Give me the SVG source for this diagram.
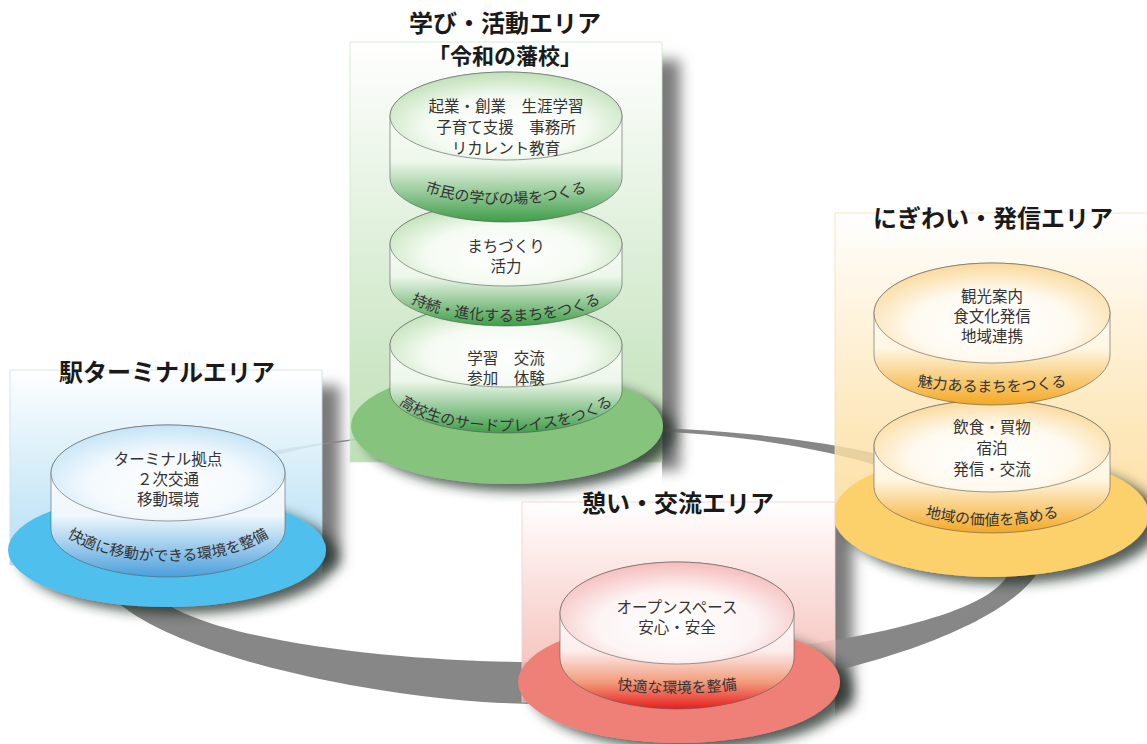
<svg xmlns="http://www.w3.org/2000/svg" width="1147" height="744" viewBox="0 0 1147 744">
<style>
.t{font-family:"Noto Sans CJK JP","Noto Sans CJK SC",sans-serif;fill:#333;font-size:15.5px;text-anchor:middle}
.h{font-weight:700;font-size:24px;fill:#1a1a1a}
.s{font-weight:700;font-size:22px;fill:#1a1a1a}
.c{font-size:15px}
.cyl{stroke:#5a5a5a;stroke-width:0.6}
</style>
<defs>
<filter id="bl" x="-30%" y="-30%" width="160%" height="160%"><feGaussianBlur stdDeviation="7"/></filter>
<filter id="ds" x="-20%" y="-30%" width="150%" height="180%">
<feGaussianBlur in="SourceAlpha" stdDeviation="6"/>
<feOffset dx="12" dy="7" result="o"/>
<feFlood flood-color="#1c2a22" flood-opacity="0.75"/>
<feComposite in2="o" operator="in"/>
<feMerge><feMergeNode/><feMergeNode in="SourceGraphic"/></feMerge>
</filter>
<linearGradient id="gP" x1="0" y1="0" x2="0" y2="1"><stop offset="0" stop-color="#fff" stop-opacity="0.95"/><stop offset="1" stop-color="#b5dbab" stop-opacity="0.85"/></linearGradient>
<linearGradient id="bP" x1="0" y1="0" x2="0" y2="1"><stop offset="0" stop-color="#fff" stop-opacity="0.95"/><stop offset="1" stop-color="#a5d8f2" stop-opacity="0.8"/></linearGradient>
<linearGradient id="oP" x1="0" y1="0" x2="0" y2="1"><stop offset="0" stop-color="#fff" stop-opacity="0.95"/><stop offset="1" stop-color="#fcd990" stop-opacity="0.8"/></linearGradient>
<linearGradient id="rP" x1="0" y1="0" x2="0" y2="1"><stop offset="0" stop-color="#fff" stop-opacity="0.95"/><stop offset="1" stop-color="#f3aea6" stop-opacity="0.85"/></linearGradient>
<radialGradient id="gT" cx="0.5" cy="0.62" r="0.62"><stop offset="0" stop-color="#fff"/><stop offset="0.55" stop-color="#f5fbf3"/><stop offset="1" stop-color="#bfe0b6"/></radialGradient>
<radialGradient id="bT" cx="0.5" cy="0.62" r="0.62"><stop offset="0" stop-color="#fff"/><stop offset="0.55" stop-color="#f3f9fd"/><stop offset="1" stop-color="#c4e4f7"/></radialGradient>
<radialGradient id="oT" cx="0.5" cy="0.62" r="0.62"><stop offset="0" stop-color="#fff"/><stop offset="0.55" stop-color="#fffaf0"/><stop offset="1" stop-color="#fad99a"/></radialGradient>
<radialGradient id="rT" cx="0.5" cy="0.62" r="0.62"><stop offset="0" stop-color="#fff"/><stop offset="0.55" stop-color="#fdf4f4"/><stop offset="1" stop-color="#f5bcbc"/></radialGradient>
<linearGradient id="gS" x1="0" y1="0" x2="0" y2="1"><stop offset="0" stop-color="#fff"/><stop offset="0.6" stop-color="#eef7eb"/><stop offset="1" stop-color="#3f9d48"/></linearGradient>
<linearGradient id="bS" x1="0" y1="0" x2="0" y2="1"><stop offset="0" stop-color="#fff"/><stop offset="0.6" stop-color="#eef7fc"/><stop offset="1" stop-color="#4a9fdc"/></linearGradient>
<linearGradient id="oS" x1="0" y1="0" x2="0" y2="1"><stop offset="0" stop-color="#fff"/><stop offset="0.6" stop-color="#fff6e2"/><stop offset="1" stop-color="#f3a823"/></linearGradient>
<linearGradient id="rS" x1="0" y1="0" x2="0" y2="1"><stop offset="0" stop-color="#fff"/><stop offset="0.6" stop-color="#fdeeee"/><stop offset="0.82" stop-color="#f29a7a"/><stop offset="1" stop-color="#e61e1e"/></linearGradient>
<clipPath id="cG"><rect x="662" y="0" width="80" height="744"/></clipPath>
<clipPath id="cB"><rect x="322" y="0" width="80" height="744"/></clipPath>
<clipPath id="cR"><rect x="835" y="0" width="80" height="744"/></clipPath>
<path id="tpG1" d="M 390 160 A 116 44 0 0 0 622 160"/>
<path id="tpG2" d="M 390 278 A 116 43 0 0 0 622 278"/>
<path id="tpG3" d="M 386 381 A 120 50 0 0 0 626 381"/>
<path id="tpB" d="M 48 508 A 120 53 0 0 0 288 508"/>
<path id="tpO1" d="M 874 365 A 118 27 0 0 0 1110 365"/>
<path id="tpO2" d="M 874 477 A 118 48 0 0 0 1110 477"/>
<path id="tpR" d="M 560 668 A 117 25 0 0 0 794 668"/>
</defs>
<rect width="1147" height="744" fill="#fff"/>

<g id="panel-shadows" fill="#7a7a7a">
<rect x="368" y="60" width="312" height="410" filter="url(#bl)" clip-path="url(#cG)"/>
<rect x="28" y="386" width="312" height="180" filter="url(#bl)" clip-path="url(#cB)"/>
<rect x="540" y="518" width="313" height="190" filter="url(#bl)" clip-path="url(#cR)"/>
</g>

<g id="connectors">
<path fill="#878787" fill-rule="evenodd" d="M 600 427 C 846 427 1045 482 1045 550 C 1045 620 820 704 540 704 C 380 704 100 645 95 565 C 95 450 380 427 600 427 Z M 600 430 C 826 430 1010 490 1010 565 C 1010 619 795 662 530 662 C 400 662 190 640 150 590 C 160 440 330 432 600 430 Z"/>
</g>

<g id="station-area">
<rect x="10" y="370" width="312" height="195" fill="url(#bP)" stroke="#c5e0ee" stroke-width="0.8"/>
<ellipse cx="167" cy="550" rx="159" ry="57" fill="#4fc0ed" filter="url(#ds)"/>
<path class="cyl" fill="url(#bS)" d="M 51 473 L 51 529 A 117 48 0 0 0 285 529 L 285 473 A 117 48 0 0 0 51 473 Z"/>
<ellipse class="cyl" cx="168" cy="473" rx="117" ry="48" fill="url(#bT)"/>
<text class="t h" x="167" y="381">駅ターミナルエリア</text>
<text class="t" x="168" y="465">ターミナル拠点</text>
<text class="t" x="168" y="485">２次交通</text>
<text class="t" x="168" y="505">移動環境</text>
<text class="t c"><textPath href="#tpB" startOffset="50%">快適に移動ができる環境を整備</textPath></text>
</g>

<g id="learning-area">
<rect x="350" y="42" width="312" height="420" fill="url(#gP)" stroke="#cfe5ca" stroke-width="0.8"/>
<ellipse cx="507" cy="426" rx="156" ry="58" fill="#86c47e" filter="url(#ds)"/>
<path class="cyl" fill="url(#gS)" d="M 390 345 L 390 391 A 116 42 0 0 0 622 391 L 622 345 A 116 42 0 0 0 390 345 Z"/>
<ellipse class="cyl" cx="506" cy="345" rx="116" ry="42" fill="url(#gT)"/>
<path class="cyl" fill="url(#gS)" d="M 390 244 L 390 284 A 116 42 0 0 0 622 284 L 622 244 A 116 42 0 0 0 390 244 Z"/>
<ellipse class="cyl" cx="506" cy="244" rx="116" ry="42" fill="url(#gT)"/>
<path class="cyl" fill="url(#gS)" d="M 390 116 L 390 178 A 116 44 0 0 0 622 178 L 622 116 A 116 44 0 0 0 390 116 Z"/>
<ellipse class="cyl" cx="506" cy="116" rx="116" ry="44" fill="url(#gT)"/>
<text class="t h" x="505" y="32">学び・活動エリア</text>
<text class="t s" x="505" y="64">「令和の藩校」</text>
<text class="t" x="506" y="112">起業・創業　生涯学習</text>
<text class="t" x="506" y="133">子育て支援　事務所</text>
<text class="t" x="506" y="154">リカレント教育</text>
<text class="t c"><textPath href="#tpG1" startOffset="50%">市民の学びの場をつくる</textPath></text>
<text class="t" x="506" y="252">まちづくり</text>
<text class="t" x="506" y="272">活力</text>
<text class="t c"><textPath href="#tpG2" startOffset="50%">持続・進化するまちをつくる</textPath></text>
<text class="t" x="506" y="364">学習　交流</text>
<text class="t" x="506" y="384">参加　体験</text>
<text class="t c"><textPath href="#tpG3" startOffset="50%">高校生のサードプレイスをつくる</textPath></text>
</g>

<g id="bustle-area">
<rect x="835" y="213" width="330" height="300" fill="url(#oP)" stroke="#f0dcb4" stroke-width="0.8"/>
<ellipse cx="991" cy="515" rx="158" ry="62" fill="#fcd06b" filter="url(#ds)"/>
<path class="cyl" fill="url(#oS)" d="M 874 446 L 874 487 A 118 46 0 0 0 1110 487 L 1110 446 A 118 46 0 0 0 874 446 Z"/>
<ellipse class="cyl" cx="992" cy="446" rx="118" ry="46" fill="url(#oT)"/>
<path class="cyl" fill="url(#oS)" d="M 874 313 L 874 355 A 118 50 0 0 0 1110 355 L 1110 313 A 118 50 0 0 0 874 313 Z"/>
<ellipse class="cyl" cx="992" cy="313" rx="118" ry="50" fill="url(#oT)"/>
<text class="t h" x="993" y="227">にぎわい・発信エリア</text>
<text class="t" x="992" y="302">観光案内</text>
<text class="t" x="992" y="322">食文化発信</text>
<text class="t" x="992" y="342">地域連携</text>
<text class="t c"><textPath href="#tpO1" startOffset="50%">魅力あるまちをつくる</textPath></text>
<text class="t" x="992" y="433">飲食・買物</text>
<text class="t" x="992" y="454">宿泊</text>
<text class="t" x="992" y="475">発信・交流</text>
<text class="t c"><textPath href="#tpO2" startOffset="50%">地域の価値を高める</textPath></text>
</g>

<g id="rest-area">
<rect x="522" y="502" width="313" height="200" fill="url(#rP)" stroke="#f0d0cc" stroke-width="0.8"/>
<ellipse cx="679" cy="682" rx="161" ry="61" fill="#ee8077" filter="url(#ds)"/>
<path class="cyl" fill="url(#rS)" d="M 560 613 L 560 658 A 117 51 0 0 0 794 658 L 794 613 A 117 51 0 0 0 560 613 Z"/>
<ellipse class="cyl" cx="677" cy="613" rx="117" ry="51" fill="url(#rT)"/>
<text class="t h" x="678" y="512">憩い・交流エリア</text>
<text class="t" x="677" y="613">オープンスペース</text>
<text class="t" x="677" y="633">安心・安全</text>
<text class="t c"><textPath href="#tpR" startOffset="50%">快適な環境を整備</textPath></text>
</g>
</svg>
